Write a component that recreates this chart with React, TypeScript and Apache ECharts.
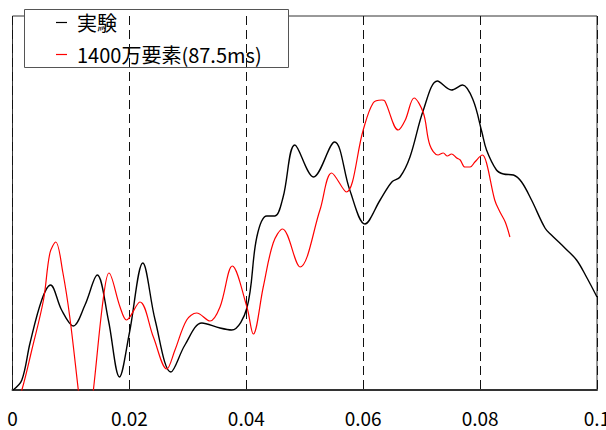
import React, { useEffect, useRef } from "react";
import * as echarts from "echarts";

// x positions (s) and values (arbitrary density units, 0..374)
const expX = [0.0001, 0.0016, 0.003, 0.005, 0.0065, 0.0084, 0.0104, 0.0124, 0.0145, 0.0164, 0.0183, 0.02, 0.0223, 0.0244, 0.0271, 0.0295, 0.0324, 0.0355, 0.0375, 0.0401, 0.0418, 0.0435, 0.0449, 0.0463, 0.0483, 0.0515, 0.0551, 0.0577, 0.0603, 0.0629, 0.0649, 0.0663, 0.068, 0.0703, 0.0727, 0.0751, 0.077, 0.0788, 0.0803, 0.0811, 0.0828, 0.084, 0.0857, 0.0871, 0.0888, 0.0911, 0.0922, 0.0945, 0.0965, 0.0982, 0.1];
const expY = [0, 10, 47, 90, 105, 80, 64, 85, 115, 70, 13, 57, 127, 70, 18, 45, 67, 62, 60, 82, 153, 174, 174, 193, 245, 213, 248, 200, 166, 190, 208, 213, 233, 280, 309, 300, 305, 290, 258, 240, 220, 216, 215, 208, 190, 162, 155, 142, 130, 113, 93];

const simX = [0.0008, 0.0016, 0.0033, 0.0053, 0.0064, 0.0074, 0.0086, 0.0098, 0.0113, 0.0125, 0.0138, 0.0155, 0.0165, 0.0184, 0.0195, 0.0218, 0.0241, 0.0264, 0.0278, 0.0298, 0.0315, 0.0338, 0.0355, 0.0376, 0.0401, 0.0412, 0.0429, 0.0446, 0.0462, 0.0492, 0.0526, 0.0546, 0.0571, 0.06, 0.0617, 0.0632, 0.0637, 0.066, 0.0672, 0.0687, 0.0703, 0.0714, 0.0728, 0.0737, 0.0744, 0.0751, 0.076, 0.0766, 0.0774, 0.0783, 0.0791, 0.0804, 0.0811, 0.0825, 0.0834, 0.0843, 0.0851];
const simY = [-10, 0, 40, 90, 137, 148, 118, 73, -2, -60, -2, 90, 117, 83, 70, 88, 53, 21, 40, 70, 77, 69, 83, 124, 83, 56, 103, 147, 161, 123, 180, 217, 198, 260, 287, 290, 289, 260, 270, 292, 277, 245, 235, 237, 234, 236, 232, 230, 223, 223, 228, 235, 227, 190, 178, 168, 153];

const xTicks = [0, 0.02, 0.04, 0.06, 0.08, 0.1];
const seriesNames = ["実験", "1400万要素(87.5ms)"];

const FONT = "'Noto Sans CJK JP', 'Noto Sans', sans-serif";

export default function App() {
  const ref = useRef<HTMLDivElement>(null);
  useEffect(() => {
    document.body.style.margin = "0";
    const chart = echarts.init(ref.current!, null, { renderer: "svg" });
    const zip = (xs: number[], ys: number[]) => xs.map((x, i) => [x, ys[i]]);
    chart.setOption({
      animation: false,
      backgroundColor: "#fff",
      grid: {
        left: 12.5,
        right: 9,
        top: 16,
        bottom: 40,
        containLabel: false,
        outerBoundsMode: "none",
        show: true,
        borderColor: "#333",
        borderWidth: 1,
        backgroundColor: "transparent",
      },
      xAxis: {
        type: "value",
        min: 0,
        max: 0.1,
        interval: 0.02,
        axisLine: { show: true, onZero: false, lineStyle: { color: "#333", width: 2 } },
        axisTick: { show: false },
        axisLabel: {
          color: "#000",
          fontSize: 19,
          fontFamily: FONT,
          margin: 18,
          showMinLabel: true,
          showMaxLabel: true,
          hideOverlap: false,
          formatter: (v: number) => {
            const t = xTicks.find((k) => Math.abs(k - v) < 1e-9);
            return t === undefined ? "" : String(t);
          },
        },
        splitLine: { show: true, lineStyle: { color: "#111", type: [9, 5], width: 1 } },
      },
      yAxis: {
        type: "value",
        min: 0,
        max: 374,
        show: false,
        splitLine: { show: false },
      },
      series: [
        {
          name: seriesNames[0],
          type: "line",
          data: zip(expX, expY),
          smooth: 0.35,
          showSymbol: false,
          symbol: "none",
          clip: true,
          lineStyle: { color: "#000", width: 1.4 },
          z: 3,
        },
        {
          name: seriesNames[1],
          type: "line",
          data: zip(simX, simY),
          smooth: 0.35,
          showSymbol: false,
          symbol: "none",
          clip: true,
          lineStyle: { color: "#ff0000", width: 1.2 },
          z: 4,
        },
      ],
      graphic: [
        {
          type: "group",
          z: 100,
          children: [
            {
              type: "rect",
              shape: { x: 24.5, y: 9.5, width: 264, height: 58 },
              style: { fill: "#fff", stroke: "#555", lineWidth: 1 },
            },
            {
              type: "line",
              shape: { x1: 56, y1: 22.5, x2: 67, y2: 22.5 },
              style: { stroke: "#000", lineWidth: 1.2 },
            },
            {
              type: "text",
              x: 77,
              y: 22,
              style: {
                text: seriesNames[0],
                fill: "#000",
                fontSize: 20,
                fontFamily: FONT,
                verticalAlign: "middle",
                align: "left",
              },
            },
            {
              type: "line",
              shape: { x1: 56, y1: 54.5, x2: 67, y2: 54.5 },
              style: { stroke: "#ff0000", lineWidth: 1.2 },
            },
            {
              type: "text",
              x: 77,
              y: 54,
              style: {
                text: seriesNames[1],
                fill: "#000",
                fontSize: 20,
                fontFamily: FONT,
                verticalAlign: "middle",
                align: "left",
              },
            },
          ],
        },
      ],
    });
    return () => chart.dispose();
  }, []);
  return (
    <div
      ref={ref}
      style={{ position: "fixed", left: 0, top: 0, width: 606, height: 430 }}
    />
  );
}
